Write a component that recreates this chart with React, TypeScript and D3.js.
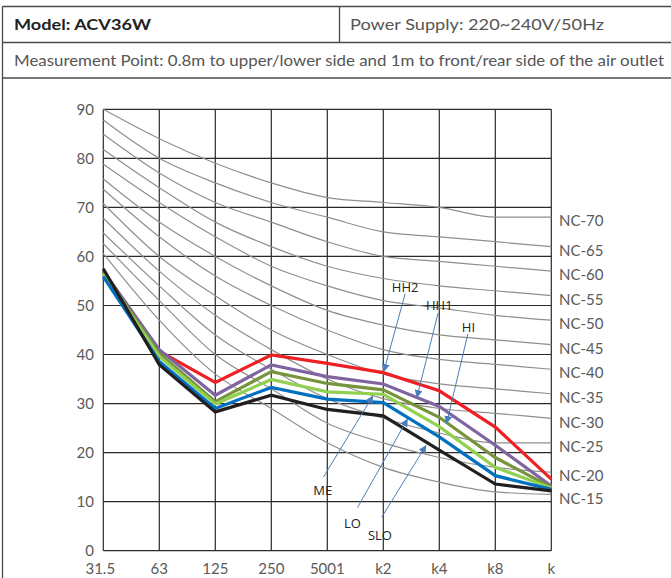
import * as d3 from "d3";
import { useEffect, useRef } from "react";

// octave bands (tick labels as printed on the sheet)
const bands = ["31.5", "63", "125", "250", "5001", "k2", "k4", "k8", "k"];
const yTicks = [0, 10, 20, 30, 40, 50, 60, 70, 80, 90];

// measured sound pressure per fan speed
const HH2 = [57.0, 40.7, 34.3, 39.9, 38.2, 36.3, 32.6, 25.2, 14.6];
const HH1 = [57.0, 41.0, 31.7, 37.9, 35.5, 34.0, 29.4, 21.5, 13.2];
const HI = [56.8, 40.2, 30.4, 36.5, 34.1, 32.8, 27.2, 19.0, 12.9];
const ME = [56.5, 39.6, 29.9, 34.9, 32.4, 31.9, 25.3, 17.0, 12.8];
const LO = [55.9, 38.6, 29.0, 33.3, 30.9, 30.2, 23.2, 15.3, 12.5];
const SLO = [57.5, 37.9, 28.3, 31.7, 28.8, 27.5, 20.5, 13.6, 12.2];

const seriesNames = ["HH2", "HH1", "HI", "ME", "LO", "SLO"];
const seriesValues = [HH2, HH1, HI, ME, LO, SLO];
const seriesColors = ["#ee2024", "#8064a2", "#77933c", "#92d050", "#0070c0", "#231f20"];

// NC reference curves
const ncNames = ["NC-70", "NC-65", "NC-60", "NC-55", "NC-50", "NC-45", "NC-40", "NC-35", "NC-30", "NC-25", "NC-20", "NC-15"];
const ncValues = [
  [90, 84, 79, 75, 72, 71, 70, 68, 68],
  [87.8, 80, 75, 71, 68, 65, 64, 63, 62],
  [84.9, 77, 71, 67, 63, 60, 59, 58, 57],
  [81.8, 74, 67, 62, 58, 55.5, 54, 53, 52],
  [78.8, 71, 64, 58, 54, 51, 49.5, 48, 47],
  [75.8, 67, 60, 54, 49, 46, 44, 43, 42],
  [73.7, 64, 56, 50, 45, 41, 39, 38, 37],
  [70.8, 60, 52, 45, 40, 36, 34, 33, 32],
  [67.8, 57, 48, 41, 35, 31, 29, 28, 27],
  [64.8, 54, 44, 37, 31, 27, 24, 22, 22],
  [62.6, 51, 40, 33, 26, 22, 19, 17, 16],
  [60.6, 47, 36, 29, 22, 17, 14, 12, 11.5],
];

// callouts: label at (lx, ly), arrow from (sx, sy) to (ex, ey) in band index / dB
const callouts = [
  { name: "HH2", lx: 5.39, ly: 53.7, sx: 5.39, sy: 52.4, ex: 5.01, ey: 36.6 },
  { name: "HH1", lx: 6.0, ly: 50.1, sx: 5.98, sy: 48.5, ex: 5.6, ey: 31.3 },
  { name: "HI", lx: 6.52, ly: 45.5, sx: 6.51, sy: 44.2, ex: 6.13, ey: 26.0 },
  { name: "ME", lx: 3.92, ly: 12.2, sx: 3.93, sy: 15.0, ex: 4.81, ey: 31.5 },
  { name: "LO", lx: 4.45, ly: 5.6, sx: 4.54, sy: 8.8, ex: 5.43, ey: 26.8 },
  { name: "SLO", lx: 4.94, ly: 3.2, sx: 4.97, sy: 6.8, ex: 5.76, ey: 21.4 },
];

export default function App() {
  const ref = useRef<SVGSVGElement>(null);

  useEffect(() => {
    const svg = d3.select(ref.current);
    svg.selectAll("*").remove();

    const W = 671, H = 578;
    const font = "Lato, 'Open Sans', sans-serif";
    const left = 103.3, right = 551.3, top = 109.3, bottom = 550.7;

    // header table
    const border = "#4a4a4a";
    const hdr = svg.append("g");
    hdr.append("line").attr("x1", 2.5).attr("x2", W).attr("y1", 6.5).attr("y2", 6.5).attr("stroke", border).attr("stroke-width", 1.3);
    hdr.append("line").attr("x1", 2.5).attr("x2", W).attr("y1", 42.5).attr("y2", 42.5).attr("stroke", border).attr("stroke-width", 1.3);
    hdr.append("line").attr("x1", 2.5).attr("x2", W).attr("y1", 78).attr("y2", 78).attr("stroke", border).attr("stroke-width", 1.3);
    hdr.append("line").attr("x1", 2.5).attr("x2", 2.5).attr("y1", 6.5).attr("y2", H).attr("stroke", border).attr("stroke-width", 1.3);
    hdr.append("line").attr("x1", 339.5).attr("x2", 339.5).attr("y1", 6.5).attr("y2", 42.5).attr("stroke", border).attr("stroke-width", 1.3);

    hdr.append("text").attr("x", 14).attr("y", 30).text("Model: ACV36W")
      .attr("font-family", font).attr("font-weight", "bold").attr("font-size", 16).attr("fill", "#222")
      .attr("textLength", 137).attr("lengthAdjust", "spacingAndGlyphs");
    hdr.append("text").attr("x", 350).attr("y", 30).text("Power Supply: 220~240V/50Hz")
      .attr("font-family", font).attr("font-size", 16).attr("fill", "#555")
      .attr("textLength", 254).attr("lengthAdjust", "spacingAndGlyphs");
    hdr.append("text").attr("x", 14).attr("y", 66).text("Measurement Point: 0.8m to upper/lower side and 1m to front/rear side of the air outlet")
      .attr("font-family", font).attr("font-size", 16).attr("fill", "#555")
      .attr("textLength", 650).attr("lengthAdjust", "spacingAndGlyphs");

    // scales
    const x = d3.scaleLinear().domain([0, bands.length - 1]).range([left, right]);
    const y = d3.scaleLinear().domain([0, 90]).range([bottom, top]);

    // grid
    const grid = svg.append("g");
    grid.selectAll(".h").data(yTicks).join("line")
      .attr("x1", left).attr("x2", right).attr("y1", d => y(d)).attr("y2", d => y(d))
      .attr("stroke", "#2a2a2a").attr("stroke-width", 1.2);
    grid.selectAll(".v").data(bands).join("line")
      .attr("x1", (_, i) => x(i)).attr("x2", (_, i) => x(i)).attr("y1", top).attr("y2", bottom)
      .attr("stroke", "#2a2a2a").attr("stroke-width", 1.2);

    // axis labels
    svg.append("g").selectAll("text").data(yTicks).join("text")
      .attr("x", 94).attr("y", d => y(d)).attr("dy", "0.35em").attr("text-anchor", "end")
      .attr("font-family", font).attr("font-size", 15).attr("fill", "#5a5a5a").text(d => d);
    svg.append("g").selectAll("text").data(bands).join("text")
      .attr("x", (_, i) => x(i) - (i === 0 ? 3 : 0)).attr("y", 569).attr("dy", "0.35em").attr("text-anchor", "middle")
      .attr("font-family", font).attr("font-size", 15).attr("fill", "#5a5a5a").text(d => d);

    // NC curves
    const ncLine = d3.line<number>().x((_, i) => x(i)).y(d => y(d)).curve(d3.curveMonotoneX);
    svg.append("g").selectAll("path").data(ncValues).join("path")
      .attr("d", d => ncLine(d)).attr("fill", "none").attr("stroke", "#8f8f8f").attr("stroke-width", 1.2);
    svg.append("g").selectAll("text").data(ncNames).join("text")
      .attr("x", 559).attr("y", (_, i) => y(ncValues[i][bands.length - 1]) + 4).attr("dy", "0.35em")
      .attr("font-family", font).attr("font-size", 15).attr("fill", "#5a5a5a").text(d => d);

    // measured lines
    const line = d3.line<number>().x((_, i) => x(i)).y(d => y(d));
    svg.append("g").selectAll("path").data(seriesValues).join("path")
      .attr("d", d => line(d)).attr("fill", "none")
      .attr("stroke", (_, i) => seriesColors[i]).attr("stroke-width", 3.2).attr("stroke-linejoin", "miter")
      .attr("data-name", (_, i) => seriesNames[i]);

    // callouts
    const defs = svg.append("defs");
    defs.append("marker").attr("id", "arr").attr("viewBox", "0 0 10 10").attr("refX", 9).attr("refY", 5)
      .attr("markerWidth", 8).attr("markerHeight", 8).attr("orient", "auto").attr("markerUnits", "userSpaceOnUse")
      .append("path").attr("d", "M0,0L10,5L0,10z").attr("fill", "#4a7ebb");
    const cg = svg.append("g");
    cg.selectAll("line").data(callouts).join("line")
      .attr("x1", d => x(d.sx)).attr("y1", d => y(d.sy)).attr("x2", d => x(d.ex)).attr("y2", d => y(d.ey))
      .attr("stroke", "#4a7ebb").attr("stroke-width", 1).attr("marker-end", "url(#arr)");
    cg.selectAll("text").data(callouts).join("text")
      .attr("x", d => x(d.lx)).attr("y", d => y(d.ly)).attr("dy", "0.35em").attr("text-anchor", "middle")
      .attr("font-family", "'Liberation Sans Narrow', 'Open Sans', sans-serif").attr("font-size", 13).attr("fill", "#222")
      .text(d => d.name);
  }, []);

  return (
    <svg ref={ref} width={671} height={578} style={{ position: "absolute", left: 0, top: 0, background: "#fff" }} />
  );
}
